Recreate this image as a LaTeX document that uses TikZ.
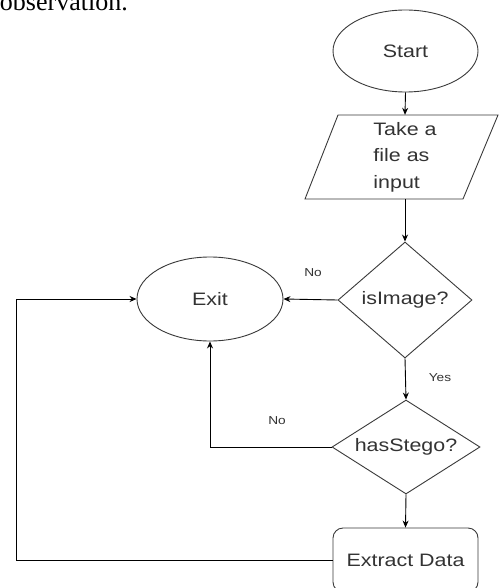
\documentclass[tikz,border=0pt]{standalone}
\usepackage{fontspec}
\usetikzlibrary{shapes.geometric,arrows.meta}
\newfontfamily\diagfont{Liberation Sans}[FakeStretch=1.19]
\newfontfamily\papfont{Liberation Serif}
\definecolor{txt}{HTML}{333333}
\definecolor{edge}{HTML}{3A3A3A}
\begin{document}
\begin{tikzpicture}[x=1pt,y=-1pt,
  base/.style={draw=edge,line width=0.9pt,text=txt,inner sep=0pt,
    font=\diagfont\fontsize{18}{26.5}\selectfont},
  term/.style={base,ellipse},
  decide/.style={base,diamond},
  procbox/.style={base,rectangle,rounded corners=10pt,minimum width=145pt,minimum height=64pt},
  conn/.style={line width=0.9pt,draw=black,-{Stealth[length=7pt,width=6pt]}},
  plain/.style={line width=0.9pt,draw=black},
  lbl/.style={text=txt,inner sep=0pt,font=\diagfont\fontsize{11.5}{13}\selectfont}]
\useasboundingbox (0,0) rectangle (499,588);
\clip (0,0) rectangle (499,588);
\fill[white] (0,0) rectangle (499,588);
% cut-off text of the page above
\node[anchor=base east,inner sep=0pt,font=\papfont\fontsize{26}{30}\selectfont] (obs) at (128,11) {observation.};
% nodes
\node[term,minimum width=145pt,minimum height=82pt] (start) at (405.5,51) {Start};
\draw[edge,line width=0.9pt] (338,115) -- (498,115) -- (463,199) -- (305,199) -- cycle;
\node[text=txt,inner sep=0pt,align=left,minimum height=84pt,
  font=\diagfont\fontsize{18}{26.5}\selectfont] (input) at (405,157) {Take a\\file as\\input};
\node[decide,minimum width=134pt,minimum height=116pt,aspect=1.155] (isimg) at (405,300) {isImage?};
\node[term,minimum width=146pt,minimum height=84pt] (exit) at (210,299) {Exit};
\node[decide,minimum width=148pt,minimum height=94pt,aspect=1.57] (hasst) at (406,447) {hasStego?};
\node[procbox] (extract) at (405.5,560) {Extract Data};
\coordinate (corner) at (16,560);
% connectors
\draw[conn] (start.south) -- (input.north);
\draw[conn] (input.south) -- (isimg.north);
\draw[conn] (isimg.west) -- (exit.east);
\draw[conn] (isimg.south) -- (hasst.north);
\draw[conn] (hasst.west) -| (exit.south);
\draw[conn] (hasst.south) -- (extract.north);
\draw[conn] (extract.west) -- (corner) |- (exit.west);
% labels
\node[lbl] (no1) at (313,273) {No};
\node[lbl] (yes) at (440,378) {Yes};
\node[lbl] (no2) at (277,421) {No};
\end{tikzpicture}
\end{document}
